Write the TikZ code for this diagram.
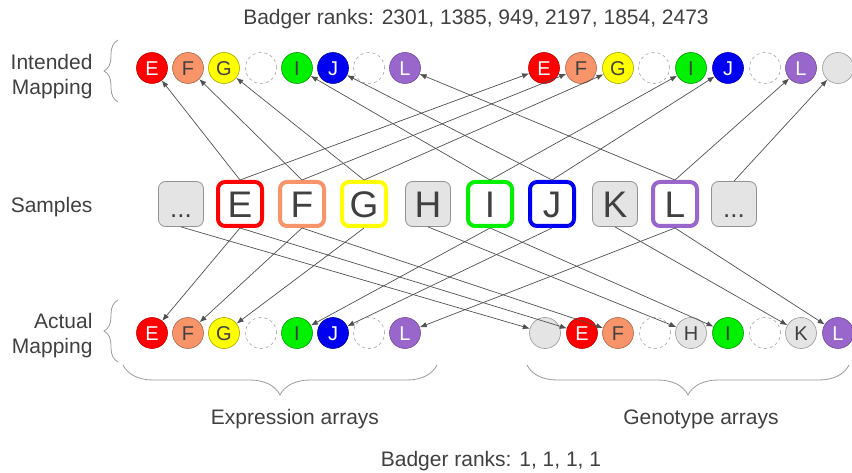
\documentclass[tikz,border=0pt]{standalone}
\usepackage{fontspec}
\setmainfont{Liberation Sans}
\usetikzlibrary{arrows.meta,decorations.pathreplacing}

\definecolor{ink}{HTML}{404040}
\definecolor{wire}{HTML}{505050}
\definecolor{braceGray}{HTML}{9A9A9A}
\definecolor{cRed}{HTML}{FF0000}
\definecolor{cSalmon}{HTML}{F7946A}
\definecolor{cYellow}{HTML}{FFFF00}
\definecolor{cGreen}{HTML}{00F000}
\definecolor{cBlue}{HTML}{0000F0}
\definecolor{cPurple}{HTML}{9966CC}
\definecolor{cGray}{HTML}{E4E4E4}

\newcommand{\labelfont}{\fontsize{21}{25}\selectfont}
\newcommand{\dotfont}{\fontsize{20}{20}\selectfont}
\newcommand{\boxfont}{\fontsize{37}{37}\selectfont}
\newcommand{\moredots}{{\fontsize{26}{26}\selectfont ...}}

\tikzset{
  dot/.style={circle, minimum size=31pt, inner sep=0pt, line width=0.6pt,
              font=\dotfont, text height=14.5pt, text depth=0pt},
  dotE/.style={dot, fill=cRed, draw=cRed!75!black, text=white},
  dotF/.style={dot, fill=cSalmon, draw=cSalmon!70!black, text=ink},
  dotG/.style={dot, fill=cYellow, draw=cYellow!65!black, text=ink},
  dotI/.style={dot, fill=cGreen, draw=cGreen!65!black, text=ink},
  dotJ/.style={dot, fill=cBlue, draw=cBlue!70!black, text=white},
  dotL/.style={dot, fill=cPurple, draw=cPurple!75!black, text=white},
  dotX/.style={dot, fill=cGray, draw=gray!80, text=ink},
  hole/.style={dot, draw=gray!70, dashed},
  sample/.style={rounded corners=7pt, inner sep=0pt, font=\boxfont, text=ink,
                 text height=27pt, text depth=0pt},
  hlbox/.style={sample, minimum size=44pt, draw=#1, line width=4pt, fill=white},
  greybox/.style={sample, minimum size=45pt, draw=gray!85, line width=0.8pt, fill=cGray},
  link/.style={draw=wire, line width=0.7pt, -{Latex[length=7pt,width=5.5pt]}},
  curly/.style={draw=braceGray, line width=0.8pt, decorate,
                decoration={brace, amplitude=#1}},
  caption/.style={font=\labelfont, text=ink},
}

\begin{document}
\begin{tikzpicture}[x=1pt, y=-1pt]
\useasboundingbox (0,0) rectangle (852,473);

% ---- titles and row labels ----
\node[caption] (ranksTop) at (476,19) {Badger ranks: 2301, 1385, 949, 2197, 1854, 2473};
\node[caption] (ranksBot) at (491,461) {Badger ranks: 1, 1, 1, 1};
\node[caption, align=right, anchor=east] (lblIntended) at (96,77) {Intended\\Mapping};
\node[caption, anchor=east] (lblSamples) at (96,207) {Samples};
\node[caption, align=right, anchor=east] (lblActual) at (96,336) {Actual\\Mapping};
\node[caption] (lblExpr) at (295,419) {Expression arrays};
\node[caption] (lblGeno) at (701,419) {Genotype arrays};

% ---- braces ----
\draw[curly=14pt] (118,102) -- (118,40);
\draw[curly=14pt] (118,362) -- (118,300);
\draw[curly=30pt] (437,365) -- (123,365);
\draw[curly=30pt] (849,365) -- (527,365);

% ---- intended mapping, expression arrays ----
\node[dotE] (tlE) at (152,68) {E};
\node[dotF] (tlF) at (188,68) {F};
\node[dotG] (tlG) at (224,68) {G};
\node[hole] (tl4) at (261,68) {};
\node[dotI] (tlI) at (297,68) {I};
\node[dotJ] (tlJ) at (333,68) {J};
\node[hole] (tl7) at (369,68) {};
\node[dotL] (tlL) at (405,68) {L};

% ---- intended mapping, genotype arrays ----
\node[dotE] (trE) at (544,68) {E};
\node[dotF] (trF) at (581,68) {F};
\node[dotG] (trG) at (618,68) {G};
\node[hole] (tr4) at (654,68) {};
\node[dotI] (trI) at (691,68) {I};
\node[dotJ] (trJ) at (728,68) {J};
\node[hole] (tr7) at (765,68) {};
\node[dotL] (trL) at (801,68) {L};
\node[dotX] (trX) at (838,68) {};

% ---- actual mapping, expression arrays ----
\node[dotE] (blE) at (152,333) {E};
\node[dotF] (blF) at (188,333) {F};
\node[dotG] (blG) at (224,333) {G};
\node[hole] (bl4) at (261,333) {};
\node[dotI] (blI) at (297,333) {I};
\node[dotJ] (blJ) at (333,333) {J};
\node[hole] (bl7) at (369,333) {};
\node[dotL] (blL) at (405,333) {L};

% ---- actual mapping, genotype arrays ----
\node[dotX] (brX) at (545,333) {};
\node[dotE] (brE) at (582,333) {E};
\node[dotF] (brF) at (618,333) {F};
\node[hole] (br4) at (655,333) {};
\node[dotX] (brH) at (691,333) {H};
\node[dotI] (brI) at (728,333) {I};
\node[hole] (br7) at (765,333) {};
\node[dotX] (brK) at (801,333) {K};
\node[dotL] (brL) at (838,333) {L};

% ---- samples ----
\node[greybox] (s0) at (181,204) {\moredots};
\node[hlbox=cRed] (sE) at (240,204) {E};
\node[hlbox=cSalmon] (sF) at (302,204) {F};
\node[hlbox=cYellow] (sG) at (364,204) {G};
\node[greybox] (sH) at (428,204) {H};
\node[hlbox=cGreen] (sI) at (490,204) {I};
\node[hlbox=cBlue] (sJ) at (552,204) {J};
\node[greybox] (sK) at (615,204) {K};
\node[hlbox=cPurple] (sL) at (675,204) {L};
\node[greybox] (s9) at (734,204) {\moredots};

% ---- intended links (upwards) ----
\draw[link] (sE.north) -- (tlE);
\draw[link] (sE.north) -- (trE);
\draw[link] (sF.north) -- (tlF);
\draw[link] (sF.north) -- (trF);
\draw[link] (sG.north) -- (tlG);
\draw[link] (sG.north) -- (trG);
\draw[link] (sI.north) -- (tlI);
\draw[link] (sI.north) -- (trI);
\draw[link] (sJ.north) -- (tlJ);
\draw[link] (sJ.north) -- (trJ);
\draw[link] (sL.north) -- (tlL);
\draw[link] (sL.north) -- (trL);
\draw[link] (s9.north) -- (trX);

% ---- actual links (downwards) ----
\draw[link] (s0.south) -- (brX);
\draw[link] (sE.south) -- (blE);
\draw[link] (sE.south) -- (brE);
\draw[link] (sF.south) -- (blF);
\draw[link] (sF.south) -- (brF);
\draw[link] (sG.south) -- (blG);
\draw[link] (sH.south) -- (brH);
\draw[link] (sI.south) -- (blI);
\draw[link] (sI.south) -- (brI);
\draw[link] (sJ.south) -- (blJ);
\draw[link] (sK.south) -- (brK);
\draw[link] (sL.south) -- (blL);
\draw[link] (sL.south) -- (brL);
\end{tikzpicture}
\end{document}
